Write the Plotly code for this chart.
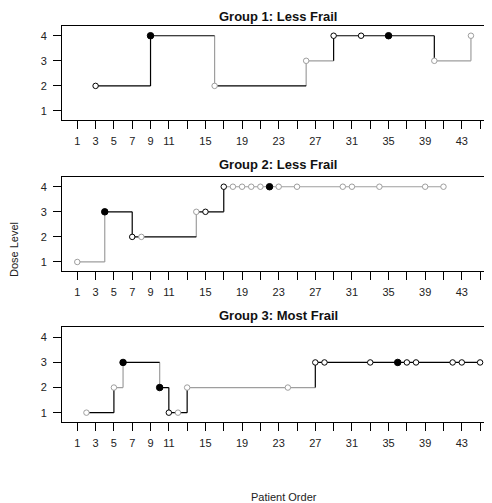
import plotly.graph_objects as go

# ---------------- data ----------------
titles = ["Group 1: Less Frail", "Group 2: Less Frail", "Group 3: Most Frail"]

g1_patient = [3, 9, 16, 26, 29, 32, 35, 40, 44]
g1_dose    = [2, 4, 2, 3, 4, 4, 4, 3, 4]
g1_filled  = [0, 1, 0, 0, 0, 0, 1, 0, 0]
g1_mark    = ["k", "k", "g", "g", "k", "k", "k", "g", "g"]
g1_hcol    = ["k", "k", "k", "g", "k", "k", "k", "g"]   # horizontal step leaving patient i
g1_vcol    = ["k", "g", "g", "k", "k", "k", "k", "g"]   # vertical step into patient i+1

g2_patient = [1, 4, 7, 8, 14, 15, 17, 18, 19, 20, 21, 22, 23, 25, 30, 31, 34, 39, 41]
g2_dose    = [1, 3, 2, 2, 3, 3, 4, 4, 4, 4, 4, 4, 4, 4, 4, 4, 4, 4, 4]
g2_filled  = [0, 1, 0, 0, 0, 0, 0, 0, 0, 0, 0, 1, 0, 0, 0, 0, 0, 0, 0]
g2_mark    = ["g", "k", "k", "g", "g", "k", "k", "g", "g", "g", "g", "k", "g", "g", "g", "g", "g", "g", "g"]
g2_hcol    = ["g", "k", "k", "k", "k", "k", "g", "g", "g", "g", "g", "g", "g", "g", "g", "g", "g", "g"]
g2_vcol    = ["g", "k", "k", "g", "k", "k", "g", "g", "g", "g", "g", "g", "g", "g", "g", "g", "g", "g"]

g3_patient = [2, 5, 6, 10, 11, 12, 13, 24, 27, 28, 33, 36, 37, 38, 42, 43, 45]
g3_dose    = [1, 2, 3, 2, 1, 1, 2, 2, 3, 3, 3, 3, 3, 3, 3, 3, 3]
g3_filled  = [0, 0, 1, 1, 0, 0, 0, 0, 0, 0, 0, 1, 0, 0, 0, 0, 0]
g3_mark    = ["g", "g", "k", "k", "k", "g", "g", "g", "k", "k", "k", "k", "k", "k", "k", "k", "k"]
g3_hcol    = ["k", "g", "k", "k", "k", "k", "g", "g", "k", "k", "k", "k", "k", "k", "k", "k"]
g3_vcol    = ["k", "g", "g", "k", "k", "k", "g", "k", "k", "k", "k", "k", "k", "k", "k", "k"]

x_ticks = list(range(1, 46, 2))
x_tick_labels = ["1", "3", "5", "7", "9", "11", "", "15", "", "19", "", "23", "", "27", "",
                 "31", "", "35", "", "39", "", "43", ""]
y_ticks = [1, 2, 3, 4]

groups = [
    (g1_patient, g1_dose, g1_filled, g1_mark, g1_hcol, g1_vcol),
    (g2_patient, g2_dose, g2_filled, g2_mark, g2_hcol, g2_vcol),
    (g3_patient, g3_dose, g3_filled, g3_mark, g3_hcol, g3_vcol),
]

# ---------------- styling ----------------
OFF = 8                     # page body margin
W, H = 484, 495             # figure size (ends at page 492 x 503)
L = 62 - OFF                # left margin so plot starts at page x=62
BLACK = "#000000"
GRAY = "#9e9e9e"
COL = {"k": BLACK, "g": GRAY}
FONT = "Liberation Sans, Arial, sans-serif"


def px_x(p):   # page pixel x -> paper
    return (p - OFF - L) / (W - L)


def px_y(p):   # page pixel y -> paper
    return 1 - (p - OFF) / H


# panel top/bottom in page pixels
panels_px = [(25.7, 120.0), (176.7, 271.0), (327.3, 421.7)]
title_y_px = [15, 164, 315]

fig = go.Figure()
layout_axes = {}

for k, (px, dose, filled, mark, hcol, vcol) in enumerate(groups):
    ax = "" if k == 0 else str(k + 1)
    xref = "x" + ax
    yref = "y" + ax
    for c in ("g", "k"):
        xs, ys = [], []
        for i in range(len(px) - 1):
            if hcol[i] == c:
                xs += [px[i], px[i + 1], None]
                ys += [dose[i], dose[i], None]
            if vcol[i] == c and dose[i] != dose[i + 1]:
                xs += [px[i + 1], px[i + 1], None]
                ys += [dose[i], dose[i + 1], None]
        fig.add_trace(go.Scatter(x=xs, y=ys, mode="lines", xaxis=xref, yaxis=yref,
                                 line=dict(color=COL[c], width=1.2),
                                 hoverinfo="skip", showlegend=False))
    fig.add_trace(go.Scatter(
        x=px, y=dose, mode="markers", xaxis=xref, yaxis=yref, showlegend=False,
        marker=dict(
            size=[6.5 if f else 5.5 for f in filled],
            color=[BLACK if f else "white" for f in filled],
            opacity=1,
            line=dict(color=[BLACK if f else COL[m] for f, m in zip(filled, mark)], width=1),
        )))

    top, bot = panels_px[k]
    layout_axes["xaxis" + ax] = dict(
        domain=[0, 1], anchor=yref, range=[-0.67, 46.3],
        tickmode="array", tickvals=x_ticks, ticktext=x_tick_labels,
        ticks="outside", ticklen=8, tickwidth=1, tickcolor=BLACK,
        showline=True, linecolor=BLACK, linewidth=1, mirror=True,
        showgrid=False, zeroline=False, ticklabelstandoff=3,
        tickfont=dict(family=FONT, size=11, color="#222"),
    )
    layout_axes["yaxis" + ax] = dict(
        domain=[px_y(bot), px_y(top)], anchor=xref, range=[0.64, 4.4],
        tickmode="array", tickvals=y_ticks,
        ticks="outside", ticklen=8, tickwidth=1, tickcolor=BLACK,
        showline=True, linecolor=BLACK, linewidth=1, mirror=False,
        showgrid=False, zeroline=False, ticklabelstandoff=4,
        tickfont=dict(family=FONT, size=11, color="#222"),
    )

annotations = []
for k, t in enumerate(titles):
    if k == 0:
        annotations.append(dict(text="<b>" + t + "</b>", x=px_x(278), y=1.0,
                                xref="paper", yref="paper", showarrow=False, borderpad=0,
                                xanchor="center", yanchor="top",
                                font=dict(family=FONT, size=13, color="#111")))
    else:
        annotations.append(dict(text="<b>" + t + "</b>", x=px_x(278), y=px_y(title_y_px[k]),
                                xref="paper", yref="paper", showarrow=False, borderpad=0,
                                xanchor="center", yanchor="middle",
                                font=dict(family=FONT, size=13, color="#111")))
annotations.append(dict(text="Dose Level", x=px_x(14), y=px_y(250), xref="paper", yref="paper",
                        showarrow=False, textangle=-90, xanchor="center", yanchor="middle",
                        font=dict(family=FONT, size=11, color="#222")))
annotations.append(dict(text="Patient Order", x=px_x(284), y=px_y(497), xref="paper", yref="paper",
                        showarrow=False, xanchor="center", yanchor="middle",
                        font=dict(family=FONT, size=11, color="#222")))

fig.update_layout(
    width=W, height=H,
    margin=dict(l=L, r=0, t=0, b=0, autoexpand=False),
    paper_bgcolor="white", plot_bgcolor="white",
    annotations=annotations,
    **layout_axes,
)

fig.write_html("out.html")
